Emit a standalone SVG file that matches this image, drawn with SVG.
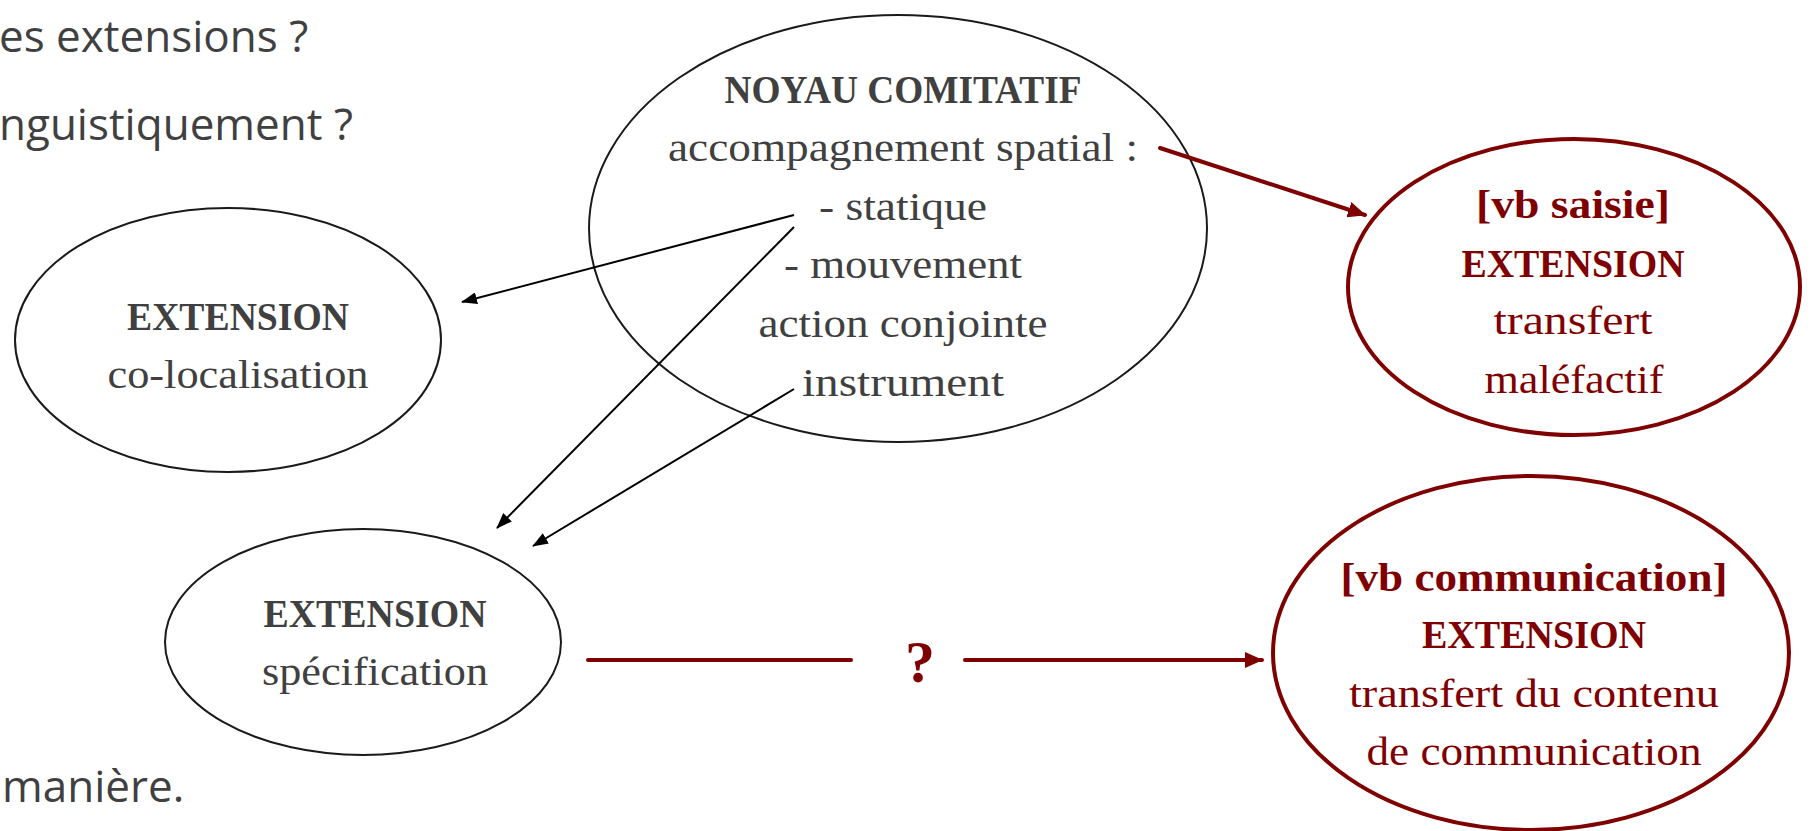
<svg xmlns="http://www.w3.org/2000/svg" width="1810" height="831" viewBox="0 0 1810 831">
  <style>
    .bg { fill: #ffffff; }
    .side { font-family: "Open Sans", "Noto Sans", sans-serif; font-size: 44px; fill: #404040; }
    .lbl { font-family: "Liberation Serif", serif; font-size: 41px; fill: #404040; text-anchor: middle; }
    .b { font-weight: bold; }
    .red { fill: #7f0000; }
    .oval { fill: none; stroke: #1a1a1a; stroke-width: 2; }
    .oval-red { fill: none; stroke: #7f0000; stroke-width: 4; }
    .link { fill: none; stroke: #000000; stroke-width: 2; }
    .link-red { fill: none; stroke: #7f0000; stroke-width: 4; stroke-linecap: round; }
  </style>
  <defs>
    <marker id="head" markerUnits="userSpaceOnUse" markerWidth="16" markerHeight="12" refX="15" refY="6" orient="auto">
      <path d="M0,0 L16,6 L0,12 z" fill="#000000"/>
    </marker>
    <marker id="head-red" markerUnits="userSpaceOnUse" markerWidth="18" markerHeight="16" refX="17" refY="8" orient="auto">
      <path d="M0,0 L18,8 L0,16 z" fill="#7f0000"/>
    </marker>
  </defs>

  <rect class="bg" x="0" y="0" width="1810" height="831"/>

  <!-- slide text partly hidden behind the left edge -->
  <text class="side" x="-1" y="52">es extensions ?</text>
  <text class="side" x="-1" y="140">nguistiquement ?</text>
  <text class="side" x="2" y="802">manière.</text>

  <g id="noyau">
    <ellipse class="oval" cx="898" cy="228.5" rx="309" ry="213.5"/>
    <text class="lbl b" x="903" y="103" textLength="357" lengthAdjust="spacingAndGlyphs">NOYAU COMITATIF</text>
    <text class="lbl" x="903" y="161" textLength="470" lengthAdjust="spacingAndGlyphs">accompagnement spatial :</text>
    <text class="lbl" x="903" y="220" textLength="168" lengthAdjust="spacingAndGlyphs">- statique</text>
    <text class="lbl" x="903" y="278" textLength="238" lengthAdjust="spacingAndGlyphs">- mouvement</text>
    <text class="lbl" x="903" y="337" textLength="289" lengthAdjust="spacingAndGlyphs">action conjointe</text>
    <text class="lbl" x="903" y="396" textLength="202" lengthAdjust="spacingAndGlyphs">instrument</text>
  </g>

  <g id="colocalisation">
    <ellipse class="oval" cx="228" cy="340" rx="213" ry="132"/>
    <text class="lbl b" x="238" y="330" textLength="222" lengthAdjust="spacingAndGlyphs">EXTENSION</text>
    <text class="lbl" x="238" y="388" textLength="261" lengthAdjust="spacingAndGlyphs">co-localisation</text>
  </g>

  <g id="specification">
    <ellipse class="oval" cx="363" cy="642" rx="198" ry="113"/>
    <text class="lbl b" x="375" y="627" textLength="223" lengthAdjust="spacingAndGlyphs">EXTENSION</text>
    <text class="lbl" x="375" y="685" textLength="226" lengthAdjust="spacingAndGlyphs">spécification</text>
  </g>

  <g id="saisie">
    <ellipse class="oval-red" cx="1574" cy="287" rx="226" ry="148"/>
    <text class="lbl b red" x="1573" y="218" textLength="194" lengthAdjust="spacingAndGlyphs">[vb saisie]</text>
    <text class="lbl b red" x="1573" y="277" textLength="223" lengthAdjust="spacingAndGlyphs">EXTENSION</text>
    <text class="lbl red" x="1573" y="334" textLength="159" lengthAdjust="spacingAndGlyphs">transfert</text>
    <text class="lbl red" x="1574" y="393" textLength="179" lengthAdjust="spacingAndGlyphs">maléfactif</text>
  </g>

  <g id="communication">
    <ellipse class="oval-red" cx="1531" cy="653" rx="258" ry="177"/>
    <text class="lbl b red" x="1534" y="591" textLength="387" lengthAdjust="spacingAndGlyphs">[vb communication]</text>
    <text class="lbl b red" x="1534" y="648" textLength="224" lengthAdjust="spacingAndGlyphs">EXTENSION</text>
    <text class="lbl red" x="1534" y="707" textLength="370" lengthAdjust="spacingAndGlyphs">transfert du contenu</text>
    <text class="lbl red" x="1534" y="765" textLength="335" lengthAdjust="spacingAndGlyphs">de communication</text>
  </g>

  <g id="connectors">
    <line class="link" x1="794" y1="215" x2="462" y2="302" marker-end="url(#head)"/>
    <line class="link" x1="794" y1="227" x2="497" y2="528" marker-end="url(#head)"/>
    <line class="link" x1="794" y1="389" x2="533" y2="546" marker-end="url(#head)"/>
    <line class="link-red" x1="1160" y1="148" x2="1365" y2="215" stroke-width="3.5" marker-end="url(#head-red)"/>
    <line class="link-red" x1="588" y1="660" x2="851" y2="660"/>
    <line class="link-red" x1="965" y1="660" x2="1262" y2="660" stroke-linecap="butt" marker-end="url(#head-red)"/>
    <text class="lbl b red" x="920" y="682" style="font-size:60px">?</text>
  </g>
</svg>
